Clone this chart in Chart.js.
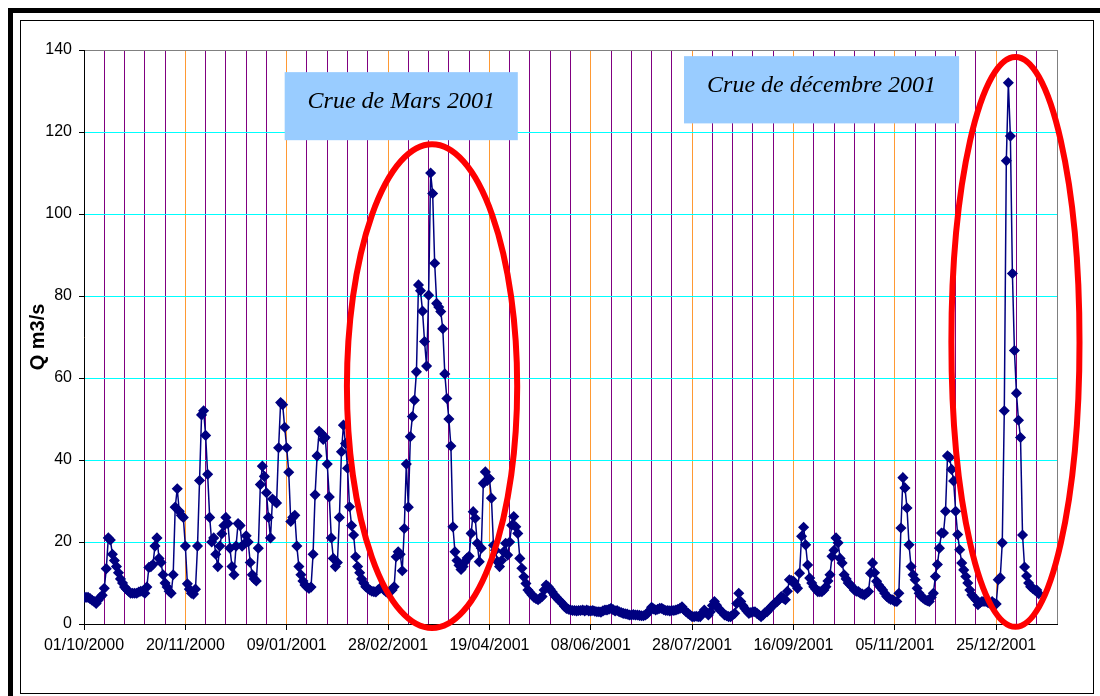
<!DOCTYPE html>
<html>
<head>
<meta charset="utf-8">
<script src="https://cdn.jsdelivr.net/npm/chart.js@4"></script>
<style>
  body { margin: 0; background: #fff; }
  #outer { position: absolute; left: 8px; top: 8px; width: 1100px; height: 700px; border: 5px solid #000; }
  #inner { position: absolute; left: 20px; top: 20px; width: 1072px; height: 672px; border: 1px solid #000; }
  canvas { position: absolute; left: 0; top: 0; }
</style>
</head>
<body>
<div id="outer"></div>
<div id="inner"></div>
<canvas id="myChart" width="1100" height="696"></canvas>
<script>
// daily discharge (m3/s), one array per month, from 01/10/2000
const oct2000 = [6.5,6.5,6.5,6.2,5.8,5.5,5,5.8,6.5,7, 8.7,13.5,21,20.5,17,15.5,14,12.5,11,10, 9,8.5,8,7.5,7.5,7.5,7.5,7.8,8,8, 7.5];
const nov2000 = [9,13.8,14,14.5,19,21,16,15,12, 10,9,8,7.5,12,28.5,33,27.5,26.5,26, 19,9.8,8.5,7.5,7.3,8.5,19,35,51,52, 46];
const dec2000 = [36.5,26,20,21,17,14,19,22,24, 26,24.5,18.5,14,12,19,24.5,24,19,19.5, 21.5,20,15,12,11,10.5,18.5,34,38.5,36, 32,26];
const jan2001 = [21,30.5,30,29.5,43,54,53.5,48, 43,37,25,26,26.5,19,14,12,10.5,9.5, 9,8.7,9,17,31.5,41,47,46.5,45,45.5, 39,31,21];
const feb2001 = [16,14,15,26,42,48.5,44, 38,28.6,24,21.7,16.4,14,12.5,11,10,9.1, 8.7,8.3,8,7.9,7.8,8.3,8.7,9.1,8.3,7.9, 7.5];
const mar2001 = [8,8.3,9.1,16.4,17.6,17,13,23.3,39, 28.5,45.7,50.6,54.6,61.5,82.7,81.3,76.3,68.9,62.9, 80.2,110,105,88,78.2,77.3,76.2,72,61,55, 50,43.4];
const apr2001 = [23.7,17.6,15.5,14.3,13.3,14,15.2,16.1, 16.5,22.1,27.4,25.8,19.7,15.2,18.5,34.3,37.1,35, 35.5,30.7,19.2,18,15.2,14,15.5,17.6,19.7,16.8, 20,24.1];
const may2001 = [26.2,23.7,22.1,16,13.6,11.5,9.9,8.3, 7.7,7.1,6.5,6.2,5.9,6.3,6.7,8.3,9.5,9.1, 8.5,7.8,7.1,6.5,6,5.5,5,4.3,3.8,3.6, 3.4,3.3,3.3];
const jun2001 = [3.2,3.3,3.3,3.4,3.2,3.4,3.2, 3.2,3.3,3.1,3,3,2.9,3.2,3.4,3.4,3.6, 3.8,3.5,3.2,3.3,3,2.8,2.6,2.5,2.4,2.2, 2.2,2.3,2.2];
const jul2001 = [2.2,2.1,2,2,2.2,2.6,3.3, 4.1,3.7,3.4,3.6,3.8,3.8,3.5,3.3,3.3,3.2, 3.3,3.3,3.4,3.6,3.8,4.2,3.5,3,2.6,2.2, 1.8,1.8,1.9,1.8];
const aug2001 = [1.8,2.6,3.4,2.8,2.2,3, 4.5,5.5,4.6,3.8,3.3,2.8,2.2,2,1.8,1.8, 2.2,2.6,5,7.5,5.5,4.5,3.8,3.2,2.6,2.8, 3,3,2.6,2.2,1.8];
const sep2001 = [2.2,2.8,3,3.6,4.2, 4.6,5.2,5.5,6,6.7,6.3,5.9,8,10.8,10.6, 10.4,9.5,8.7,12.4,21.4,23.6,19.3,14.4,11.2,10, 9.1,8.5,7.9,7.9,7.9];
const oct2001 = [8.3,9.1,10.5,12,16.5, 18,21,19.8,16,14.9,12,11,10,9.6,9, 8.3,8,7.9,7.5,7.3,7.1,7.5,7.9,12.4,14.9, 12.5,10.4,9.5,8.9,8.3,7.5];
const nov2001 = [6.7,6.3,6,5.9, 5.5,5.5,7.5,23.4,35.7,33.2,28.3,19.3,14,12, 10.8,8.7,7.5,6.7,6.3,5.9,5.7,5.5,6.5,7.5, 11.6,14.5,18.5,22.2,22.2,27.5];
const dec2001 = [41,40.6,37.7,34.9, 27.5,21.8,18.1,14.9,13.2,11.6,10,8.3,7.1,6.5, 5.9,4.7,5.2,5.5,5.5,5.5,5.2,5,5.5,5, 4.9,10.8,11.3,19.8,52,113,132];
const jan2002 = [119,85.5,66.7,56.3,49.7,45.5,21.7,13.9,11.7,10,9.1,8.7,8.3,8.3,7.4];

// one label every 50 days
const xTickLabels = ['01/10/2000','20/11/2000','09/01/2001','28/02/2001','19/04/2001',
  '08/06/2001','28/07/2001','16/09/2001','05/11/2001','25/12/2001'];

const notes = [
  { text: 'Crue de Mars 2001', x0: 99, x1: 214, y0: 134.6, y1: 118 },
  { text: 'Crue de décembre 2001', x0: 296, x1: 431.7, y0: 138.5, y1: 122.1 }
];
const circles = [
  { x: 171.7, y: 58, rx: 42, ry: 59 },
  { x: 459.5, y: 68.8, rx: 31.6, ry: 69.5 }
];

const daily = [].concat(oct2000, nov2000, dec2000, jan2001, feb2001, mar2001, apr2001,
  may2001, jun2001, jul2001, aug2001, sep2001, oct2001, nov2001, dec2001, jan2002);
const points = daily.map((q, i) => ({ x: i, y: q }));

// text boxes and red circles, placed through the scales
const notesPlugin = {
  id: 'notes',
  beforeDatasetsDraw(chart) {
    const ctx = chart.ctx, xs = chart.scales.x, ys = chart.scales.y;
    ctx.save();
    notes.forEach(n => {
      const l = xs.getPixelForValue(n.x0), r = xs.getPixelForValue(n.x1);
      const t = ys.getPixelForValue(n.y0), b = ys.getPixelForValue(n.y1);
      ctx.fillStyle = '#99ccff';
      ctx.fillRect(l, t, r - l, b - t);
      ctx.fillStyle = '#000';
      ctx.font = 'italic 24px "Liberation Serif"';
      ctx.textAlign = 'center';
      ctx.textBaseline = 'middle';
      ctx.fillText(n.text, (l + r) / 2, (t + b) / 2 - 4);
    });
    ctx.restore();
  },
  afterDatasetsDraw(chart) {
    const ctx = chart.ctx, xs = chart.scales.x, ys = chart.scales.y;
    ctx.save();
    ctx.strokeStyle = '#ff0000';
    ctx.lineWidth = 6;
    circles.forEach(c => {
      const cx = xs.getPixelForValue(c.x), cy = ys.getPixelForValue(c.y);
      const rx = xs.getPixelForValue(c.x + c.rx) - cx;
      const ry = cy - ys.getPixelForValue(c.y + c.ry);
      ctx.beginPath();
      ctx.ellipse(cx, cy, rx, ry, 0, 0, Math.PI * 2);
      ctx.stroke();
    });
    ctx.restore();
  }
};

const config = {
  type: 'line',
  data: {
    datasets: [{
      data: points,
      borderColor: '#000080',
      backgroundColor: '#000080',
      borderWidth: 1.5,
      pointStyle: 'rectRot',
      pointRadius: 4.5,
      pointBorderWidth: 1.5,
      tension: 0
    }]
  },
  options: {
    responsive: false,
    animation: false,
    layout: { padding: { left: 20, right: 43, top: 50, bottom: 0 } },
    plugins: { legend: { display: false }, tooltip: { enabled: false } },
    scales: {
      x: {
        type: 'linear', min: 0, max: 480,
        afterFit: s => { s.height = 72; },
        ticks: {
          stepSize: 10, autoSkip: false, maxRotation: 0, padding: 6,
          color: '#000', font: { family: '"Liberation Sans"', size: 16 },
          callback: v => (v % 50 === 0 ? xTickLabels[v / 50] : '')
        },
        grid: {
          color: c => (c.tick.value === 480 ? '#808080' : c.tick.value % 50 === 0 ? '#ff9933' : '#800080'),
          tickColor: c => (c.tick.value % 50 === 0 && c.tick.value < 480 ? '#000' : 'rgba(0,0,0,0)'),
          tickLength: 6
        },
        border: { color: '#000' }
      },
      y: {
        min: 0, max: 140,
        afterFit: s => { s.width = 64; },
        ticks: {
          stepSize: 20, padding: 7, color: '#000',
          font: { family: '"Liberation Sans"', size: 16 }
        },
        grid: {
          color: c => (c.tick.value === 140 ? '#808080' : '#00ffff'),
          tickColor: '#000',
          tickLength: 5
        },
        border: { color: '#000' },
        title: {
          display: true, text: 'Q m3/s', color: '#000', padding: { top: 6, bottom: 0 },
          font: { family: '"Liberation Sans"', size: 20, weight: 'bold' }
        }
      }
    }
  },
  plugins: [notesPlugin]
};

var myChart = new Chart(document.getElementById('myChart'), config);
</script>
</body>
</html>
